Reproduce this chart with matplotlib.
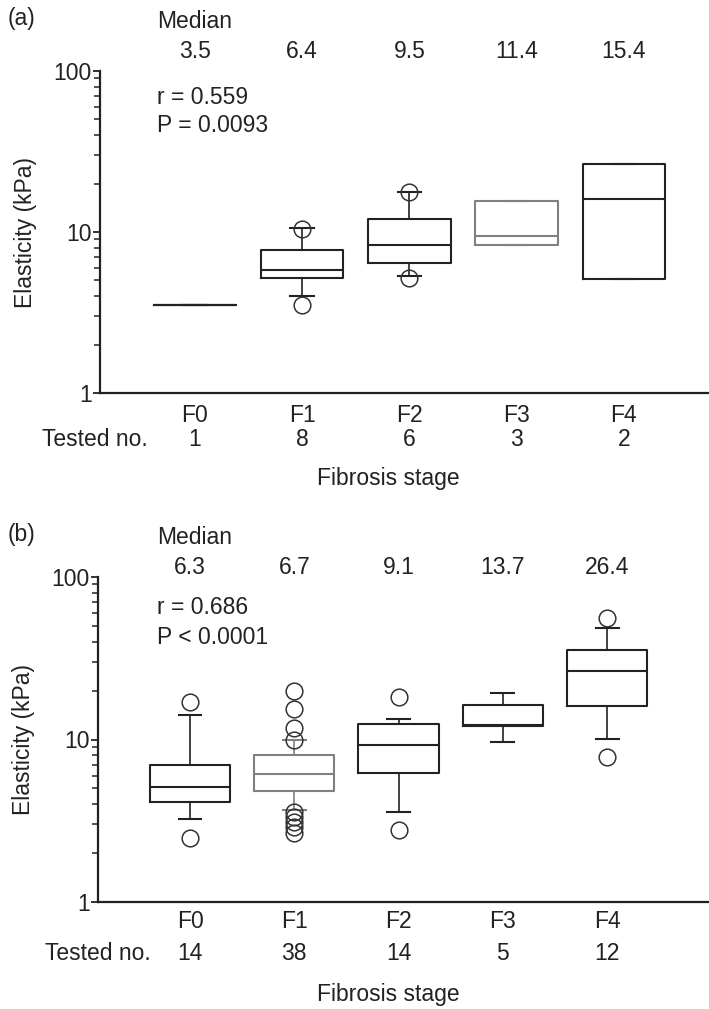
import matplotlib
matplotlib.use("Agg")
import matplotlib.pyplot as plt
import matplotlib.transforms as mtransforms
from matplotlib.ticker import LogLocator, NullFormatter

NARROW = ['Liberation Sans Narrow', 'Liberation Sans', 'DejaVu Sans']
plt.rcParams['font.family'] = NARROW

stages = ["F0", "F1", "F2", "F3", "F4"]

# panel (a)
a_median_text = ["3.5", "6.4", "9.5", "11.4", "15.4"]
a_tested = ["1", "8", "6", "3", "2"]
a_q1 = [3.5, 5.2, 6.4, 8.3, 5.1]
a_med = [3.5, 5.8, 8.3, 9.4, 16.0]
a_q3 = [3.5, 7.7, 12.0, 15.6, 26.3]
a_whislo = [3.5, 4.0, 5.3, 8.3, 5.1]
a_whishi = [3.5, 10.6, 17.8, 15.6, 26.3]
a_fliers = [[], [10.5, 3.5], [17.8, 5.15], [], []]
a_stats_text = ["r = 0.559", "P = 0.0093"]

# panel (b)
b_median_text = ["6.3", "6.7", "9.1", "13.7", "26.4"]
b_tested = ["14", "38", "14", "5", "12"]
b_q1 = [4.1, 4.8, 6.2, 12.1, 16.1]
b_med = [5.1, 6.1, 9.2, 12.3, 26.3]
b_q3 = [7.0, 8.0, 12.5, 16.2, 35.7]
b_whislo = [3.24, 3.7, 3.6, 9.6, 10.1]
b_whishi = [14.2, 9.9, 13.4, 19.2, 48.5]
b_fliers = [[17.1, 2.47],
            [9.9, 11.8, 15.3, 19.8, 3.6, 3.35, 3.1, 2.9, 2.66],
            [18.3, 2.76],
            [],
            [56.0, 7.8]]
b_stats_text = ["r = 0.686", "P < 0.0001"]

box_colors_a = ["#222222", "#222222", "#222222", "#808080", "#222222"]
box_colors_b = ["#222222", "#808080", "#222222", "#222222", "#222222"]

W, H = 709, 1009
fig = plt.figure(figsize=(W / 100, H / 100), dpi=100)
TXT = "#222222"
FS = 16.5


def px_axes(left, top, bottom):
    return fig.add_axes([left / W, (H - bottom) / H, (W - left) / W, (bottom - top) / H])


def draw_panel(ax, tag, q1, med, q3, wlo, whi, fliers, colors, med_text, tested, stats_text,
               xlim, y_tag, y_vals, y_r, y_p, y_stage, y_tested, y_title, x_tested):
    stats = []
    for i in range(len(stages)):
        stats.append(dict(q1=q1[i], med=med[i], q3=q3[i], whislo=wlo[i], whishi=whi[i],
                          fliers=fliers[i], label=stages[i]))
    pos = list(range(len(stages)))
    bp = ax.bxp(stats, positions=pos, widths=0.77, capwidths=0.22, patch_artist=False,
                boxprops=dict(linewidth=1.5),
                medianprops=dict(linewidth=1.5),
                whiskerprops=dict(linewidth=1.2),
                capprops=dict(linewidth=1.5),
                flierprops=dict(marker="o", markersize=12, markerfacecolor="none",
                                markeredgecolor="#333333", markeredgewidth=1.1))
    for i, c in enumerate(colors):
        bp["boxes"][i].set_color(c)
        bp["medians"][i].set_color(c)
        for k in (2 * i, 2 * i + 1):
            bp["whiskers"][k].set_color(c)
            bp["caps"][k].set_color(c)

    ax.set_yscale("log")
    ax.set_ylim(1, 100)
    ax.set_xlim(*xlim)
    for s in ["top", "right"]:
        ax.spines[s].set_visible(False)
    for s in ["left", "bottom"]:
        ax.spines[s].set_linewidth(1.6)
        ax.spines[s].set_color(TXT)
    ax.yaxis.set_minor_locator(LogLocator(base=10, subs=range(2, 10), numticks=10))
    ax.yaxis.set_minor_formatter(NullFormatter())
    ax.set_yticks([1, 10, 100])
    ax.set_yticklabels(["1", "10", "100"])
    ax.tick_params(axis="y", which="major", length=5, width=1.3, pad=1, labelsize=FS,
                   colors=TXT)
    ax.tick_params(axis="y", which="minor", length=4, width=1.1, colors=TXT)
    ax.set_xticks([])
    ax.set_ylabel("Elasticity (kPa)", fontsize=FS, color=TXT, labelpad=12,
                  family=['Liberation Sans', 'DejaVu Sans'])

    def ptext(x, ypix, s, ha="center", xdata=True):
        yfrac = (H - ypix) / H
        if xdata:
            tr = mtransforms.blended_transform_factory(ax.transData, fig.transFigure)
        else:
            tr = fig.transFigure
            x = x / W
        fig.text(x, yfrac, s, ha=ha, va="center", fontsize=FS, color=TXT, transform=tr)

    ptext(8, y_tag, tag, ha="left", xdata=False)
    ptext(157, y_tag + 3, "Median", ha="left", xdata=False)
    for i, t in enumerate(med_text):
        ptext(pos[i], y_vals, t)
    ptext(157, y_r, stats_text[0], ha="left", xdata=False)
    ptext(157, y_p, stats_text[1], ha="left", xdata=False)
    for i, s in enumerate(stages):
        ptext(pos[i], y_stage, s)
        ptext(pos[i], y_tested, tested[i])
    ptext(x_tested, y_tested, "Tested no.", ha="left", xdata=False)
    ptext(388, y_title, "Fibrosis stage", xdata=False)


ax_a = px_axes(100, 71, 393)
draw_panel(ax_a, "(a)", a_q1, a_med, a_q3, a_whislo, a_whishi, a_fliers, box_colors_a,
           a_median_text, a_tested, a_stats_text, xlim=(-0.886, 4.795),
           y_tag=18, y_vals=52, y_r=97, y_p=125, y_stage=416, y_tested=440, y_title=478,
           x_tested=42)

ax_b = px_axes(98, 577, 902)
draw_panel(ax_b, "(b)", b_q1, b_med, b_q3, b_whislo, b_whishi, b_fliers, box_colors_b,
           b_median_text, b_tested, b_stats_text, xlim=(-0.8825, 4.978),
           y_tag=534, y_vals=568, y_r=608, y_p=637, y_stage=921, y_tested=954, y_title=995,
           x_tested=45)

fig.savefig("out.png", dpi=100, facecolor="white")
